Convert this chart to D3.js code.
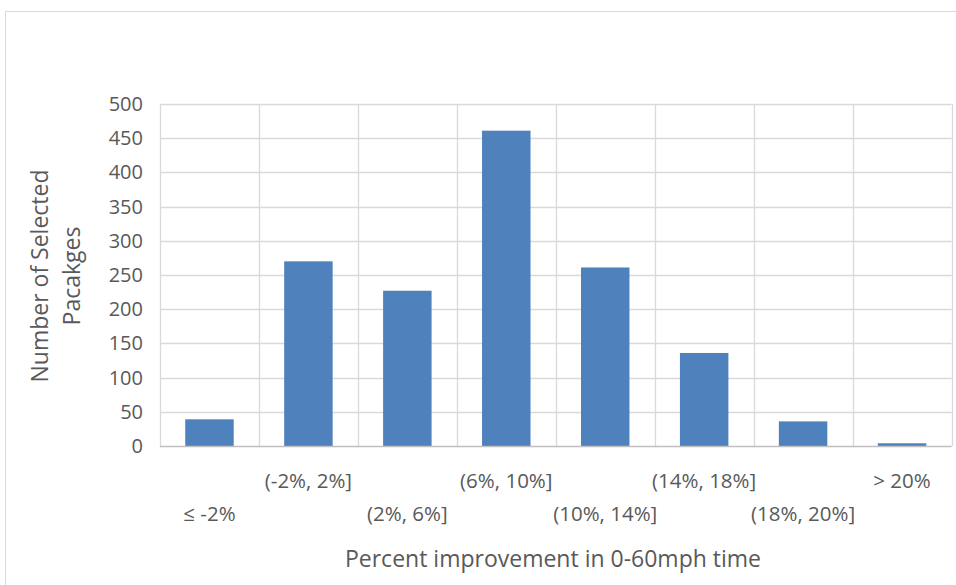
<!DOCTYPE html>
<html><head><meta charset="utf-8">
<script src="https://cdn.jsdelivr.net/npm/d3@7"></script>
<style>
html,body{margin:0;padding:0;background:#fff;}
text{font-family:"Open Sans","Noto Sans",sans-serif;fill:#595959;}
</style></head>
<body><svg id="chart" width="956" height="585"></svg>
<script>
const categories = ["≤ -2%", "(-2%, 2%]", "(2%, 6%]", "(6%, 10%]", "(10%, 14%]", "(14%, 18%]", "(18%, 20%]", "> 20%"];
const values = [39, 270, 227, 461, 261, 136, 36, 4];
const yTicks = [0, 50, 100, 150, 200, 250, 300, 350, 400, 450, 500];
const xTitle = "Percent improvement in 0-60mph time";
const yTitleLines = ["Number of Selected", "Pacakges"];

const svg = d3.select("#chart");
const W = 956, H = 585;
const m = {left: 160, right: 4.5, top: 104, bottom: 139};
const pw = W - m.left - m.right, ph = H - m.top - m.bottom;
const FONT = '"Open Sans","Noto Sans",sans-serif';

// outer chart border
svg.append("rect").attr("x", 5.5).attr("y", 11.5).attr("width", 960).attr("height", 600)
  .attr("fill", "#fff").attr("stroke", "#d9d9d9").attr("stroke-width", 1);

const x = d3.scaleBand().domain(categories).range([m.left, m.left + pw]).paddingInner(0).paddingOuter(0);
const y = d3.scaleLinear().domain([0, 500]).range([m.top + ph, m.top]);

const g = svg.append("g");
// horizontal gridlines
g.selectAll(".hg").data(yTicks.filter(d => d > 0)).enter().append("line")
  .attr("x1", m.left).attr("x2", m.left + pw)
  .attr("y1", d => Math.round(y(d)) + 0.5).attr("y2", d => Math.round(y(d)) + 0.5)
  .attr("stroke", "#d9d9d9").attr("stroke-width", 1.3);
// vertical gridlines at band boundaries
const bounds = categories.map(c => x(c)).concat([x(categories[categories.length - 1]) + x.bandwidth()]);
g.selectAll(".vg").data(bounds).enter().append("line")
  .attr("x1", d => Math.round(d) + 0.5).attr("x2", d => Math.round(d) + 0.5)
  .attr("y1", m.top).attr("y2", y(0))
  .attr("stroke", "#d9d9d9").attr("stroke-width", 1.3);

// bars
const bw = x.bandwidth() * 0.49;
g.selectAll(".bar").data(values).enter().append("rect")
  .attr("x", (d, i) => x(categories[i]) + (x.bandwidth() - bw) / 2)
  .attr("y", d => y(d))
  .attr("width", bw)
  .attr("height", d => y(0) - y(d))
  .attr("fill", "#4f81bd");

// x axis line
g.append("line").attr("x1", m.left).attr("x2", m.left + pw)
  .attr("y1", Math.round(y(0)) + 0.5).attr("y2", Math.round(y(0)) + 0.5)
  .attr("stroke", "#bfbfbf").attr("stroke-width", 1.3);

// y axis tick labels
const yAxis = d3.axisLeft(y).tickValues(yTicks).tickSize(0).tickPadding(17);
const ya = svg.append("g").attr("transform", `translate(${m.left},0)`).call(yAxis);
ya.select(".domain").remove();
ya.selectAll("text").style("font-size", "20px").attr("fill", "#595959").style("font-family", FONT);

// x category labels, staggered
const xAxis = d3.axisBottom(x).tickSize(0).tickPadding(0);
const xa = svg.append("g").attr("transform", `translate(0,${y(0)})`).call(xAxis);
xa.select(".domain").remove();
xa.selectAll("text")
  .attr("dy", null)
  .attr("y", (d, i) => i % 2 === 1 ? 34 : 67)
  .attr("dominant-baseline", "central")
  .style("font-size", "20.5px").attr("fill", "#595959").style("font-family", FONT);

// axis titles
svg.append("text").attr("x", 553).attr("y", 558).attr("text-anchor", "middle")
  .attr("dominant-baseline", "central").style("font-size", "23px").text(xTitle);
const yt = svg.append("text").attr("transform", "translate(0,276) rotate(-90)").attr("text-anchor", "middle")
  .style("font-size", "23px");
yTitleLines.forEach((t, i) => {
  yt.append("tspan").attr("x", 0).attr("y", i === 0 ? 48 : 80).text(t);
});
</script></body></html>
